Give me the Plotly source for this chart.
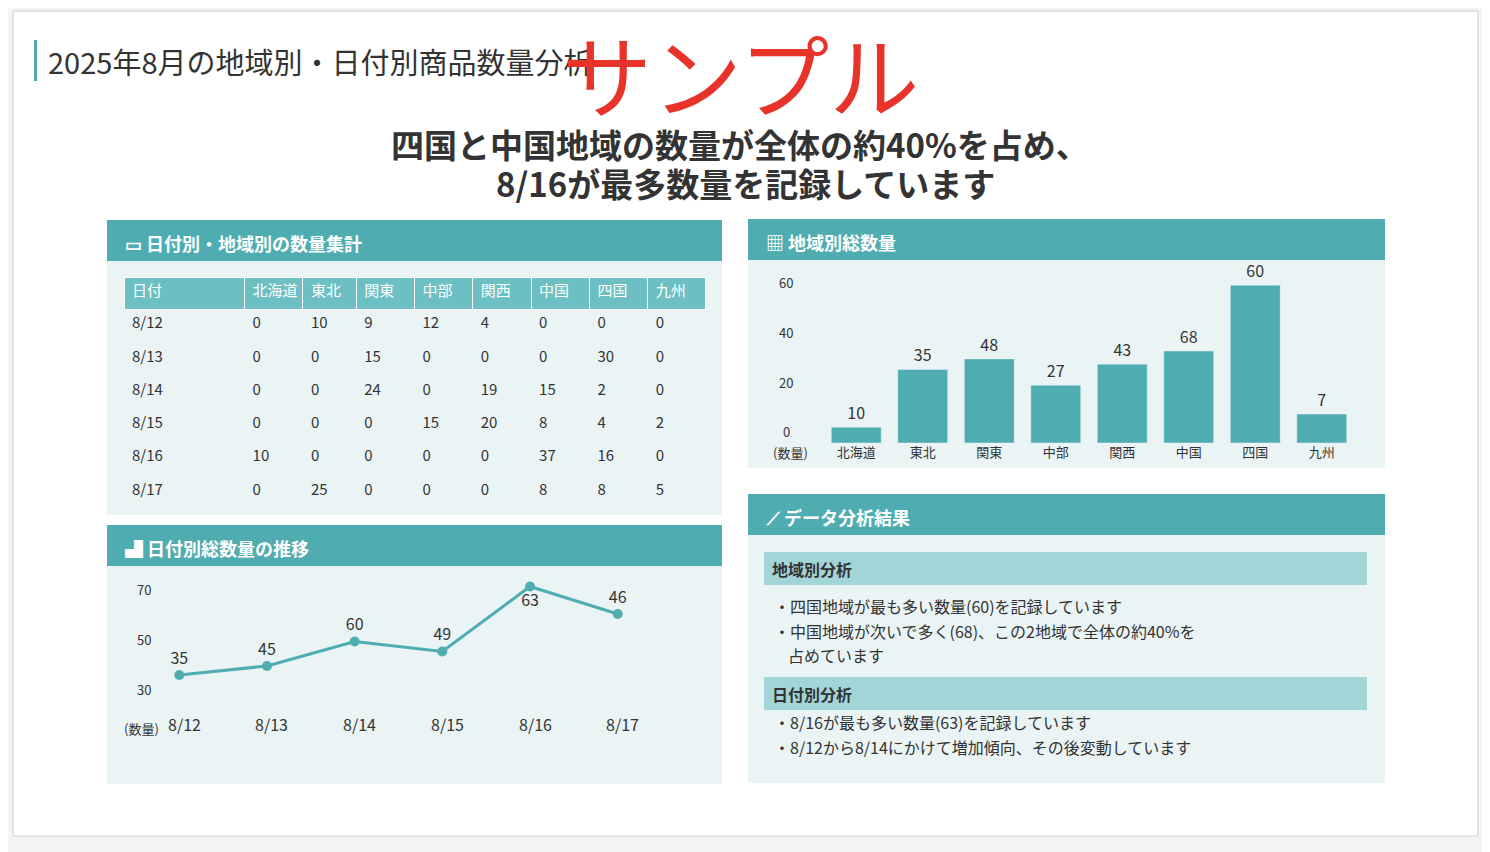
import plotly.graph_objects as go

W, H = 1490, 852
FONT = "Noto Sans CJK JP"
TEAL = "#4fadb1"
PANEL = "#eaf4f5"
SUB = "#a2d5d7"
DARK = "#333333"
OFF = 8  # page body margin

# table data
dates = ["8/12", "8/13", "8/14", "8/15", "8/16", "8/17"]
regions = ["北海道", "東北", "関東", "中部", "関西", "中国", "四国", "九州"]
table_rows = [
    [0, 10, 9, 12, 4, 0, 0, 0],
    [0, 0, 15, 0, 0, 0, 30, 0],
    [0, 0, 24, 0, 19, 15, 2, 0],
    [0, 0, 0, 15, 20, 8, 4, 2],
    [10, 0, 0, 0, 0, 37, 16, 0],
    [0, 25, 0, 0, 0, 8, 8, 5],
]

# bar chart: drawn heights and printed labels (they differ in the source)
bar_heights = [6, 28, 32, 22, 30, 35, 60, 11]
bar_labels = ["10", "35", "48", "27", "43", "68", "60", "7"]

# line chart: drawn positions and printed labels
line_values = [35.6, 39.2, 49, 45, 71, 60]
line_labels = ["35", "45", "60", "49", "63", "46"]
line_label_pos = ["top center", "top center", "top center", "top center", "bottom center", "top center"]


def px(x):
    return (x - OFF) / W


def py(y):
    return 1 - (y - OFF) / H


fig = go.Figure()
shapes = []
ann = []


def rect(x0, y0, x1, y1, fill, line=None):
    shapes.append(dict(type="rect", xref="paper", yref="paper", x0=px(x0), x1=px(x1),
                       y0=py(y1), y1=py(y0), fillcolor=fill,
                       line=dict(width=1 if line else 0, color=line or fill), layer="below"))


def text(x, y, s, size=14, color=DARK, anchor="left", bold=False, ya="middle"):
    ann.append(dict(xref="paper", yref="paper", x=px(x), y=py(y), text=f"<b>{s}</b>" if bold else s,
                    showarrow=False, xanchor=anchor, yanchor=ya,
                    font=dict(family=FONT, size=size, color=color)))


# page card
rect(13, 11, 1478, 836, "white", "#cccccc")
rect(34, 40, 37, 81, TEAL)
text(46, 61, "2025年8月の地域別・日付別商品数量分析", 29)
text(740, 144, "四国と中国地域の数量が全体の約40%を占め、", 33, anchor="center", bold=True)
text(745, 183, "8/16が最多数量を記録しています", 33, anchor="center", bold=True)

# panels
panels = [
    (107, 220, 722, 515, "▭ 日付別・地域別の数量集計"),
    (107, 525, 722, 784, "▟ 日付別総数量の推移"),
    (748, 219, 1385, 468, "▦ 地域別総数量"),
    (748, 494, 1385, 783, "⟋ データ分析結果"),
]
for x0, y0, x1, y1, title in panels:
    rect(x0, y0, x1, y1, PANEL)
    rect(x0, y0, x1, y0 + 41, TEAL)
    text(x0 + 16, y0 + 23, title, 18, "white", bold=True)

# table
header = ["日付"] + regions
cols = [dates] + [[r[i] for r in table_rows] for i in range(len(regions))]
fig.add_trace(go.Table(
    domain=dict(x=[px(124), px(706)], y=[py(515), py(277)]),
    columnwidth=[120, 58, 53, 58, 58, 58, 58, 58, 58],
    header=dict(values=header, fill_color="#6cbfc3", align="left", height=32,
                line=dict(color="white", width=1),
                font=dict(family=FONT, size=15, color="white")),
    cells=dict(values=cols, fill_color=PANEL, align="left", height=33.3,
               line=dict(color=PANEL, width=0),
               font=dict(family=FONT, size=15, color=DARK)),
))

# bar chart
fig.add_trace(go.Bar(x=regions, y=bar_heights, text=bar_labels, textposition="outside",
                     marker_color=TEAL, width=0.75, cliponaxis=False,
                     textfont=dict(family=FONT, size=16, color=DARK),
                     xaxis="x", yaxis="y"))
for v, lab in zip([4.2, 23.2, 42.2, 61.2], ["0", "20", "40", "60"]):
    ann.append(dict(xref="paper", yref="y", x=px(786), y=v, text=lab, showarrow=False,
                    xanchor="center", font=dict(family=FONT, size=13, color=DARK)))
text(790, 452, "(数量)", 13, anchor="center")

# line chart
fig.add_trace(go.Scatter(x=dates, y=line_values, mode="lines+markers+text", text=line_labels,
                         textposition=line_label_pos, cliponaxis=False,
                         line=dict(color=TEAL, width=3), marker=dict(size=10, color=TEAL),
                         textfont=dict(family=FONT, size=16, color=DARK),
                         xaxis="x2", yaxis="y2"))
for v in [30, 50, 70]:
    ann.append(dict(xref="paper", yref="y2", x=px(144), y=v, text=str(v), showarrow=False,
                    xanchor="center", font=dict(family=FONT, size=13, color=DARK)))
text(141, 728, "(数量)", 13, anchor="center")
for d in dates:
    ann.append(dict(xref="x2", yref="paper", x=d, y=py(738), text=d, showarrow=False,
                    xshift=5, font=dict(family=FONT, size=16, color=DARK)))

# analysis panel
rect(764, 552, 1367, 585, SUB)
text(770, 569, "地域別分析", 16, bold=True)
text(772, 606, "・四国地域が最も多い数量(60)を記録しています", 16)
text(772, 631, "・中国地域が次いで多く(68)、この2地域で全体の約40%を", 16)
text(786, 655, "占めています", 16)
rect(764, 677, 1367, 710, SUB)
text(770, 694, "日付別分析", 16, bold=True)
text(772, 722, "・8/16が最も多い数量(63)を記録しています", 16)
text(772, 747, "・8/12から8/14にかけて増加傾向、その後変動しています", 16)

# watermark
text(740, 72, "サンプル", 90, "#e8332a", anchor="center")

fig.update_layout(
    width=W, height=H, margin=dict(l=0, r=0, t=0, b=0),
    paper_bgcolor="#f4f4f4", plot_bgcolor="rgba(0,0,0,0)", showlegend=False,
    shapes=shapes, annotations=ann,
    xaxis=dict(domain=[px(823), px(1355)], showgrid=False, zeroline=False, showline=False,
               tickfont=dict(family=FONT, size=13, color=DARK), ticks=""),
    yaxis=dict(domain=[py(443), py(259)], range=[0, 70], visible=False),
    xaxis2=dict(domain=[px(148), px(649)], visible=False, anchor="y2"),
    yaxis2=dict(domain=[py(700), py(580)], range=[25.6, 73.6], visible=False, anchor="x2"),
)

fig.write_html("out.html")
